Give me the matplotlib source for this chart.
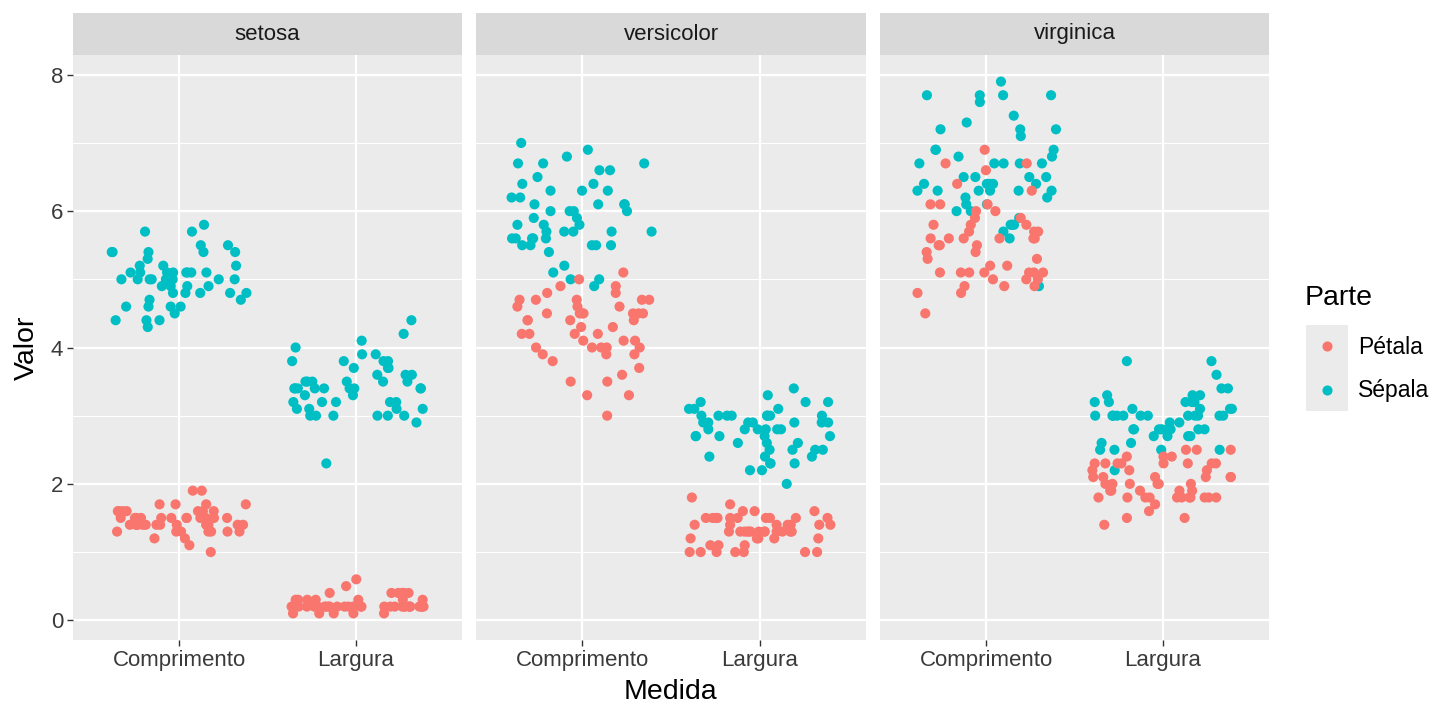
# iris jitter plot, ggplot-like facets (Comprimento/Largura by Parte)
import numpy as np
import pandas as pd
import matplotlib
matplotlib.use('Agg')
import matplotlib.pyplot as plt
import seaborn as sns
from matplotlib.patches import Rectangle

plt.rcParams['font.family'] = ['Liberation Sans', 'DejaVu Sans']

especies = ['setosa', 'versicolor', 'virginica']
medidas = ['Comprimento', 'Largura']
partes = ['Pétala', 'Sépala']
cores = {'Pétala': '#F8766D', 'Sépala': '#00BFC4'}

# iris, 50 por especie
sepala_comp = [
    5.1, 4.9, 4.7, 4.6, 5.0, 5.4, 4.6, 5.0, 4.4, 4.9, 5.4, 4.8, 4.8, 4.3, 5.8, 5.7, 5.4, 5.1, 5.7, 5.1,
    5.4, 5.1, 4.6, 5.1, 4.8, 5.0, 5.0, 5.2, 5.2, 4.7, 4.8, 5.4, 5.2, 5.5, 4.9, 5.0, 5.5, 4.9, 4.4, 5.1,
    5.0, 4.5, 4.4, 5.0, 5.1, 4.8, 5.1, 4.6, 5.3, 5.0,
    7.0, 6.4, 6.9, 5.5, 6.5, 5.7, 6.3, 4.9, 6.6, 5.2, 5.0, 5.9, 6.0, 6.1, 5.6, 6.7, 5.6, 5.8, 6.2, 5.6,
    5.9, 6.1, 6.3, 6.1, 6.4, 6.6, 6.8, 6.7, 6.0, 5.7, 5.5, 5.5, 5.8, 6.0, 5.4, 6.0, 6.7, 6.3, 5.6, 5.5,
    5.5, 6.1, 5.8, 5.0, 5.6, 5.7, 5.7, 6.2, 5.1, 5.7,
    6.3, 5.8, 7.1, 6.3, 6.5, 7.6, 4.9, 7.3, 6.7, 7.2, 6.5, 6.4, 6.8, 5.7, 5.8, 6.4, 6.5, 7.7, 7.7, 6.0,
    6.9, 5.6, 7.7, 6.3, 6.7, 7.2, 6.2, 6.1, 6.4, 7.2, 7.4, 7.9, 6.4, 6.3, 6.1, 7.7, 6.3, 6.4, 6.0, 6.9,
    6.7, 6.9, 5.8, 6.8, 6.7, 6.7, 6.3, 6.5, 6.2, 5.9]
sepala_larg = [
    3.5, 3.0, 3.2, 3.1, 3.6, 3.9, 3.4, 3.4, 2.9, 3.1, 3.7, 3.4, 3.0, 3.0, 4.0, 4.4, 3.9, 3.5, 3.8, 3.8,
    3.4, 3.7, 3.6, 3.3, 3.4, 3.0, 3.4, 3.5, 3.4, 3.2, 3.1, 3.4, 4.1, 4.2, 3.1, 3.2, 3.5, 3.6, 3.0, 3.4,
    3.5, 2.3, 3.2, 3.5, 3.8, 3.0, 3.8, 3.2, 3.7, 3.3,
    3.2, 3.2, 3.1, 2.3, 2.8, 2.8, 3.3, 2.4, 2.9, 2.7, 2.0, 3.0, 2.2, 2.9, 2.9, 3.1, 3.0, 2.7, 2.2, 2.5,
    3.2, 2.8, 2.5, 2.8, 2.9, 3.0, 2.8, 3.0, 2.9, 2.6, 2.4, 2.4, 2.7, 2.7, 3.0, 3.4, 3.1, 2.3, 3.0, 2.5,
    2.6, 3.0, 2.6, 2.3, 2.7, 3.0, 2.9, 2.9, 2.5, 2.8,
    3.3, 2.7, 3.0, 2.9, 3.0, 3.0, 2.5, 2.9, 2.5, 3.6, 3.2, 2.7, 3.0, 2.5, 2.8, 3.2, 3.0, 3.8, 2.6, 2.2,
    3.2, 2.8, 2.8, 2.7, 3.3, 3.2, 2.8, 3.0, 2.8, 3.0, 2.8, 3.8, 2.8, 2.8, 2.6, 3.0, 3.4, 3.1, 3.0, 3.1,
    3.1, 3.1, 2.7, 3.2, 3.3, 3.0, 2.5, 3.0, 3.4, 3.0]
petala_comp = [
    1.4, 1.4, 1.3, 1.5, 1.4, 1.7, 1.4, 1.5, 1.4, 1.5, 1.5, 1.6, 1.4, 1.1, 1.2, 1.5, 1.3, 1.4, 1.7, 1.5,
    1.7, 1.5, 1.0, 1.7, 1.9, 1.6, 1.6, 1.5, 1.4, 1.6, 1.6, 1.5, 1.5, 1.4, 1.5, 1.2, 1.3, 1.4, 1.3, 1.5,
    1.3, 1.3, 1.3, 1.6, 1.9, 1.4, 1.6, 1.4, 1.5, 1.4,
    4.7, 4.5, 4.9, 4.0, 4.6, 4.5, 4.7, 3.3, 4.6, 3.9, 3.5, 4.2, 4.0, 4.7, 3.6, 4.4, 4.5, 4.1, 4.5, 3.9,
    4.8, 4.0, 4.9, 4.7, 4.3, 4.4, 4.8, 5.0, 4.5, 3.5, 3.8, 3.7, 3.9, 5.1, 4.5, 4.5, 4.7, 4.4, 4.1, 4.0,
    4.4, 4.6, 4.0, 3.3, 4.2, 4.2, 4.2, 4.3, 3.0, 4.1,
    6.0, 5.1, 5.9, 5.6, 5.8, 6.6, 4.5, 6.3, 5.8, 6.1, 5.1, 5.3, 5.5, 5.0, 5.1, 5.3, 5.5, 6.7, 6.9, 5.0,
    5.7, 4.9, 6.7, 4.9, 5.7, 6.0, 4.8, 4.9, 5.6, 5.8, 6.1, 6.4, 5.6, 5.1, 5.6, 6.1, 5.6, 5.5, 4.8, 5.4,
    5.6, 5.1, 5.1, 5.9, 5.7, 5.2, 5.0, 5.2, 5.4, 5.1]
petala_larg = [
    0.2, 0.2, 0.2, 0.2, 0.2, 0.4, 0.3, 0.2, 0.2, 0.1, 0.2, 0.2, 0.1, 0.1, 0.2, 0.4, 0.4, 0.3, 0.3, 0.3,
    0.2, 0.4, 0.2, 0.5, 0.2, 0.2, 0.4, 0.2, 0.2, 0.2, 0.2, 0.4, 0.1, 0.2, 0.2, 0.2, 0.2, 0.1, 0.2, 0.2,
    0.3, 0.3, 0.2, 0.6, 0.4, 0.3, 0.2, 0.2, 0.2, 0.2,
    1.4, 1.5, 1.5, 1.3, 1.5, 1.3, 1.6, 1.0, 1.3, 1.4, 1.0, 1.5, 1.0, 1.4, 1.3, 1.4, 1.5, 1.0, 1.5, 1.1,
    1.8, 1.3, 1.5, 1.2, 1.3, 1.4, 1.4, 1.7, 1.5, 1.0, 1.1, 1.0, 1.2, 1.6, 1.5, 1.6, 1.5, 1.3, 1.3, 1.3,
    1.2, 1.4, 1.2, 1.0, 1.3, 1.2, 1.3, 1.3, 1.1, 1.3,
    2.5, 1.9, 2.1, 1.8, 2.2, 2.1, 1.7, 1.8, 1.8, 2.5, 2.0, 1.9, 2.1, 2.0, 2.4, 2.3, 1.8, 2.2, 2.3, 1.5,
    2.3, 2.0, 2.0, 1.8, 2.1, 1.8, 1.8, 1.8, 2.1, 1.6, 1.9, 2.0, 2.2, 1.5, 1.4, 2.3, 2.4, 1.8, 1.8, 2.1,
    2.4, 2.3, 1.9, 2.3, 2.5, 2.3, 1.9, 2.0, 2.3, 1.8]

especie_col = [e for e in especies for _ in range(50)]

rows = []
for valores, parte, medida in [(sepala_comp, 'Sépala', 'Comprimento'),
                               (sepala_larg, 'Sépala', 'Largura'),
                               (petala_comp, 'Pétala', 'Comprimento'),
                               (petala_larg, 'Pétala', 'Largura')]:
    rows.append(pd.DataFrame({'Species': especie_col, 'Parte': parte,
                              'Medida': medida, 'Valor': valores}))
df = pd.concat(rows, ignore_index=True)

W, H = 1440, 720
fig = plt.figure(figsize=(W / 100, H / 100), dpi=100)
fig.patch.set_facecolor('white')

panels_px = [(73, 462), (476, 866), (880, 1269)]
top_px, bot_px, strip_px = 55, 640, 42
np.random.seed(3)

ymin, ymax = df['Valor'].min(), df['Valor'].max()
pad = (ymax - ymin) * 0.05

for i, (sp, (x0, x1)) in enumerate(zip(especies, panels_px)):
    ax = fig.add_axes([x0 / W, 1 - bot_px / H, (x1 - x0) / W, (bot_px - top_px) / H])
    ax.set_facecolor('#EBEBEB')
    sub = df[df['Species'] == sp]
    sns.stripplot(data=sub, x='Medida', y='Valor', hue='Parte', order=medidas,
                  hue_order=['Sépala', 'Pétala'], palette=cores, jitter=0.4,
                  size=7.3, linewidth=0, alpha=1, ax=ax, legend=False, zorder=3)
    ax.set_xlim(-0.6, 1.6)
    ax.set_ylim(ymin - pad, ymax + pad)
    ax.set_yticks([0, 2, 4, 6, 8])
    ax.set_yticks([1, 3, 5, 7], minor=True)
    ax.set_xticks([0, 1])
    ax.set_xticklabels(medidas)
    ax.grid(which='major', color='white', linewidth=1.6, zorder=0)
    ax.grid(which='minor', axis='y', color='white', linewidth=0.8, zorder=0)
    ax.set_axisbelow(True)
    for s in ax.spines.values():
        s.set_visible(False)
    ax.tick_params(axis='both', which='major', length=4, width=1, color='#333333',
                   labelcolor='#3A3A3A', labelsize=16, pad=3)
    ax.tick_params(axis='both', which='minor', length=0)
    ax.set_xlabel('')
    ax.set_ylabel('')
    if i > 0:
        ax.tick_params(axis='y', which='both', left=False, labelleft=False)
    # strip
    ax.add_patch(Rectangle((0, 1), 1, strip_px / (bot_px - top_px), transform=ax.transAxes,
                           facecolor='#D9D9D9', edgecolor='none', clip_on=False))
    ax.text(0.5, 1 + strip_px / 2 / (bot_px - top_px), sp, transform=ax.transAxes,
            ha='center', va='center', fontsize=16, color='#1A1A1A')

fig.text(27 / W, 1 - 348 / H, 'Valor', rotation=90, ha='center', va='center', fontsize=20.5)
fig.text(670 / W, 1 - 692 / H, 'Medida', ha='center', va='center', fontsize=20.5)

# legenda
fig.text(1305 / W, 1 - 298 / H, 'Parte', ha='left', va='center', fontsize=20.5)
lax = fig.add_axes([1306 / W, 1 - 411 / H, 42 / W, 86 / H])
lax.set_xlim(0, 1)
lax.set_ylim(0, 2)
lax.axis('off')
for k, parte in enumerate(partes):
    yk = 1 - k
    lax.add_patch(Rectangle((0, yk + 0.01), 1, 0.98, facecolor='#EBEBEB', edgecolor='none'))
    lax.scatter([0.5], [yk + 0.5], s=53, color=cores[parte], linewidths=0)
    fig.text(1358 / W, 1 - (347 + 44 * k) / H, parte, ha='left', va='center', fontsize=16.5)

fig.savefig('out.png', dpi=100)
